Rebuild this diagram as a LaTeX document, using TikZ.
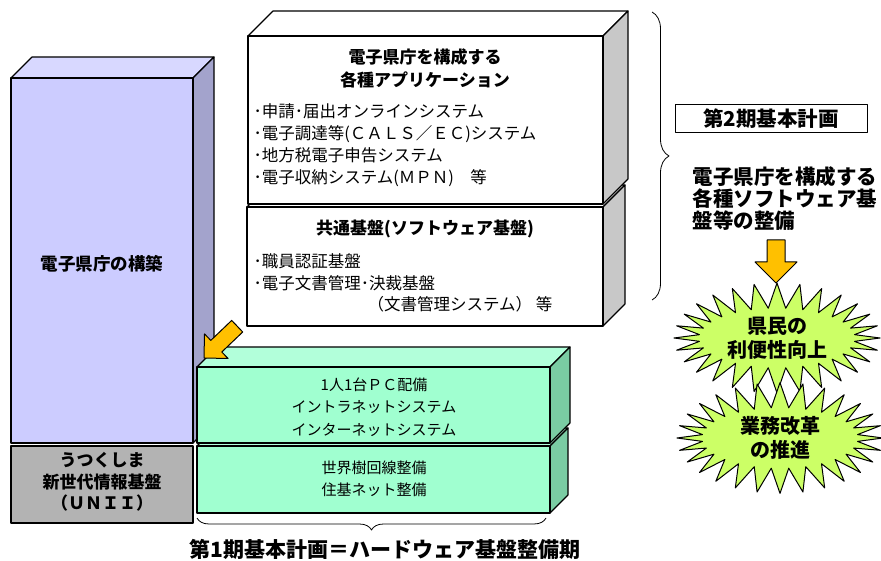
\documentclass[tikz,border=0pt]{standalone}
\usepackage{fontspec}
\setmainfont{Noto Sans CJK JP}
\usetikzlibrary{shapes.symbols,decorations.pathreplacing}
\definecolor{purpF}{RGB}{204,204,255}
\definecolor{purpT}{RGB}{216,216,255}
\definecolor{purpS}{RGB}{163,163,204}
\definecolor{greenF}{RGB}{160,255,208}
\definecolor{greenT}{RGB}{178,255,218}
\definecolor{greenS}{RGB}{122,204,163}
\definecolor{greyF}{RGB}{179,179,179}
\definecolor{sideG}{RGB}{200,200,200}
\definecolor{gold}{RGB}{255,192,0}
\definecolor{burst}{RGB}{204,255,102}
\newcommand\cubeD[8]{%
  \draw[fill=#7] (#1,#2) -- (#1+#5,#2-#5) -- (#3+#5,#2-#5) -- (#3,#2) -- cycle;
  \draw[fill=#8] (#3,#2) -- (#3+#5,#2-#5) -- (#3+#5,#4-#5) -- (#3,#4) -- cycle;
  \draw[fill=#6] (#1,#2) rectangle (#3,#4);
}
\begin{document}
\begin{tikzpicture}[x=1pt,y=-1pt,line width=1.1pt,line join=round,
  txt/.style={font=\fontsize{16.5}{22}\selectfont,align=left,inner sep=0pt},
  ctxt/.style={font=\fontsize{15}{22.5}\selectfont,align=center,inner sep=0pt},
  ttl/.style={font=\fontsize{17}{23}\selectfont\bfseries,align=center,inner sep=0pt},
  big/.style={font=\fontsize{20.5}{22}\selectfont\bfseries,inner sep=0pt},
  burstnode/.style={starburst,starburst points=28,starburst point height=25pt,random starburst=0,
    draw,fill=burst,line width=1pt,font=\fontsize{20}{24}\selectfont\bfseries,align=center,
    minimum width=206pt,minimum height=94pt,inner sep=0pt},
  goldarrow/.style={draw,fill=gold,line width=1pt}]
\useasboundingbox (0,0) rectangle (881,561);

% purple and grey
\cubeD{11}{78}{193}{443}{21}{purpF}{purpT}{purpS}
\draw[fill=greyF] (11,446) rectangle (193,523);
\node[ttl,font=\fontsize{17.5}{23}\selectfont\bfseries] (kouchiku) at (102,264) {電子県庁の構築};
\node[ttl,font=\fontsize{17}{21.5}\selectfont\bfseries] (unii) at (102,482) {うつくしま\\新世代情報基盤\\（ＵＮＩＩ）};

% white boxes
\cubeD{247}{207}{603}{326}{22}{white}{white}{sideG}
\cubeD{248}{36}{603}{204}{25}{white}{white}{sideG}
\node[ttl] (appt) at (425,68) {電子県庁を構成する\\各種アプリケーション};
\node[txt,anchor=west] (appl) at (253,145) {･申請･届出オンラインシステム\\･電子調達等(ＣＡＬＳ／ＥＣ)システム\\･地方税電子申告システム\\･電子収納システム(ＭＰＮ)　等};
\node[ttl] (kiban) at (425,229) {共通基盤(ソフトウェア基盤)};
\node[txt,anchor=west,font=\fontsize{16.5}{21.5}\selectfont] (kibanl) at (253,283) {･職員認証基盤\\･電子文書管理･決裁基盤\\\hspace*{114pt}（文書管理システム）\ 等};

% green boxes
\cubeD{197}{446}{550}{513}{18}{greenF}{greenT}{greenS}
\cubeD{197}{367}{550}{443}{20}{greenF}{greenT}{greenS}
\node[ctxt] (pc) at (374,407) {1人1台ＰＣ配備\\イントラネットシステム\\インターネットシステム};
\node[ctxt] (kaisen) at (374,479) {世界樹回線整備\\住基ネット整備};

% diagonal arrow
\draw[goldarrow] (242.7,332.0) -- (221.8,352.0) -- (228.1,358.5) -- (204,358) -- (204.5,333.9) -- (210.8,340.4) -- (231.7,320.4) -- cycle;

% bottom brace and label
\coordinate (bbR) at (546,518);
\coordinate (bbL) at (197,518);
\draw[line width=0.8pt,decorate,decoration={brace,amplitude=12pt}] (bbR) -- (bbL);
\node[big,font=\fontsize{21}{22}\selectfont\bfseries] (ki1) at (385,549) {第1期基本計画＝ハードウェア基盤整備期};

% right brace
\coordinate (rbT) at (652,12);
\coordinate (rbB) at (652,300);
\draw[line width=0.8pt,decorate,decoration={brace,amplitude=17pt}] (rbT) -- (rbB);

\node[big,draw,line width=1pt,minimum width=192pt,minimum height=28pt] (ki2) at (771,119) {第2期基本計画};
\node[big,anchor=west,align=left] (soft) at (692,199) {電子県庁を構成する\\各種ソフトウェア基\\盤等の整備};

% down arrow
\draw[goldarrow] (767,240) -- (785,240) -- (785,262) -- (797,262) -- (776,283) -- (755,262) -- (767,262) -- cycle;

\node[burstnode] (kenmin) at (777,338) {県民の\\利便性向上};
\node[burstnode] (gyomu) at (780,438) {業務改革\\の推進};
\end{tikzpicture}
\end{document}
